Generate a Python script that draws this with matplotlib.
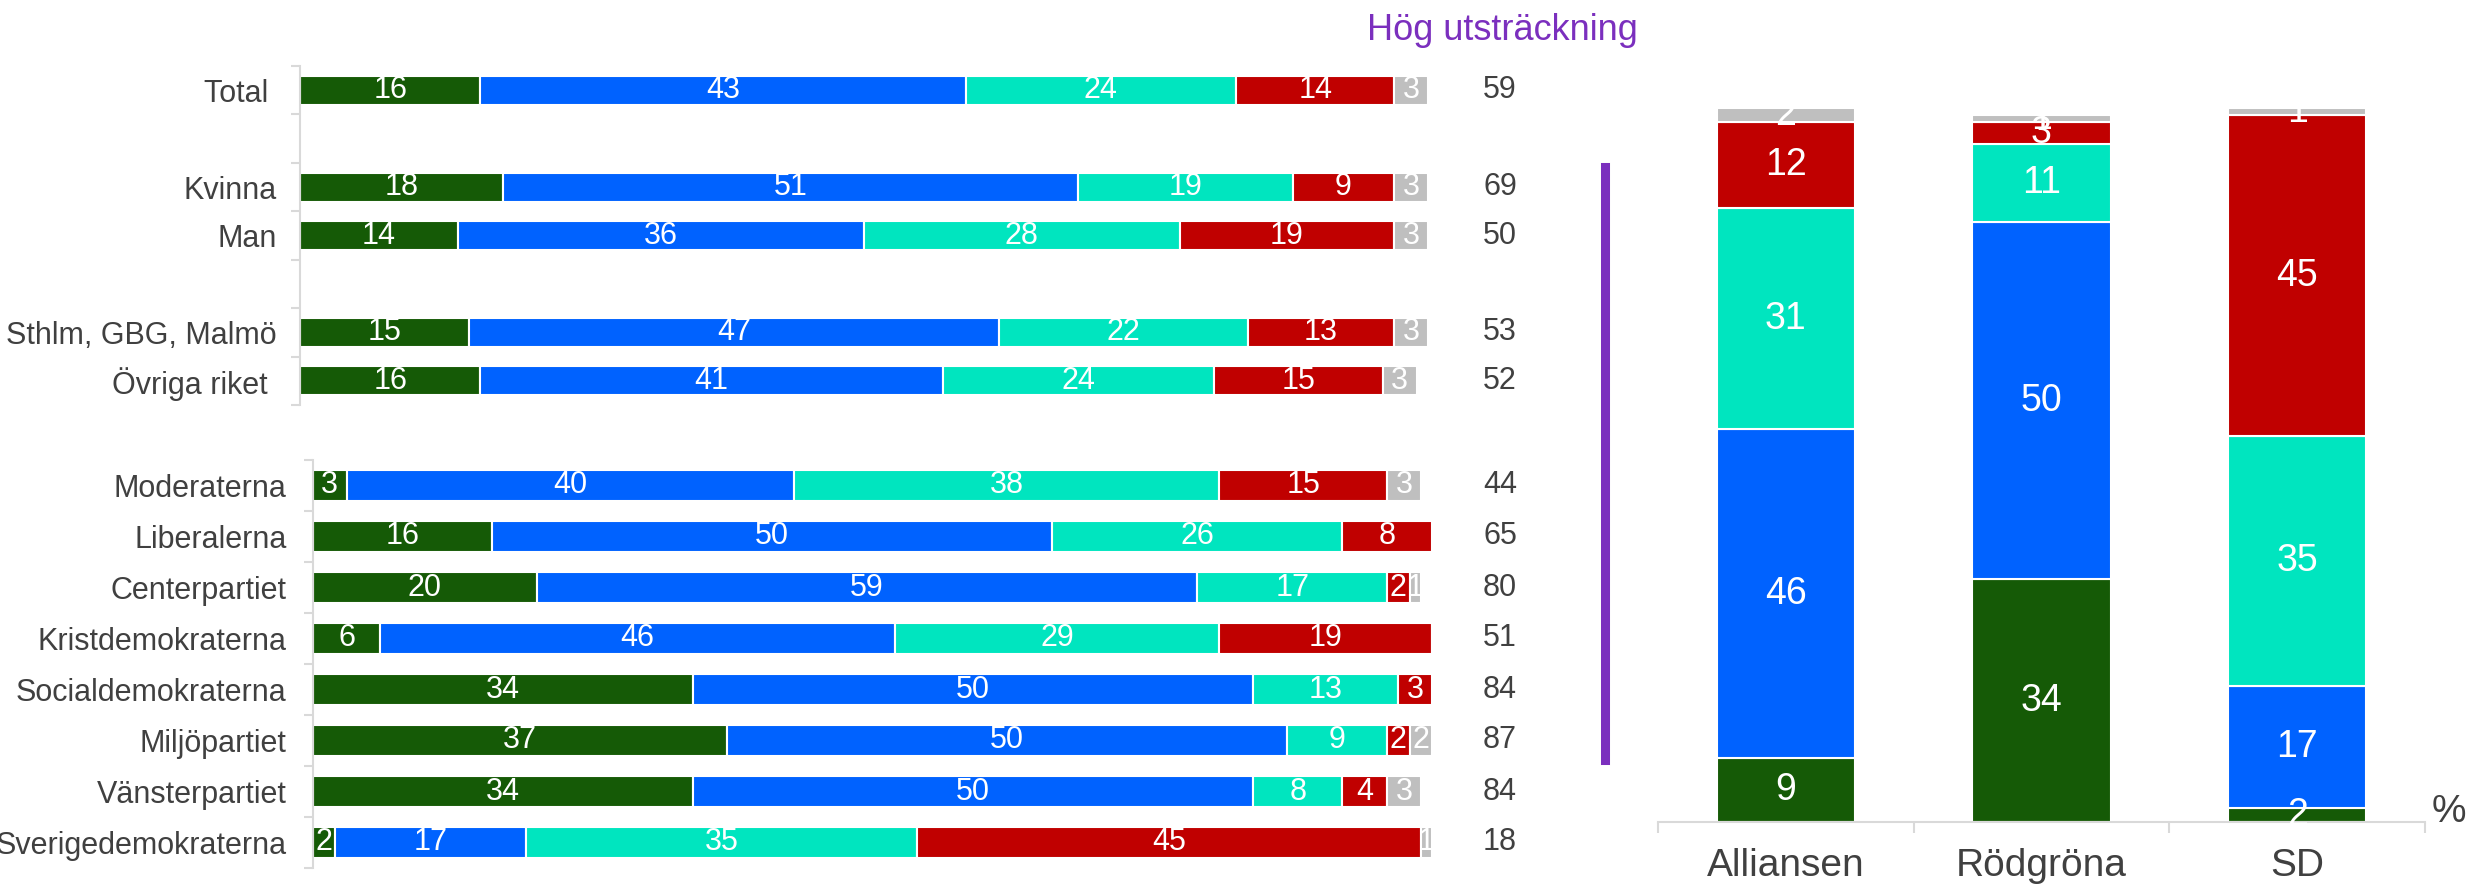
import numpy as np
import matplotlib
matplotlib.use("Agg")
import matplotlib.pyplot as plt
from matplotlib.lines import Line2D
from matplotlib.transforms import blended_transform_factory

plt.rcParams['font.family'] = ['Liberation Sans', 'DejaVu Sans']

# farger for de fem svarsalternativen
colors = ['#155A06', '#0062FF', '#00E5BF', '#C00000', '#BFBFBF']
text_grey = '#404040'
axis_grey = '#D9D9D9'
purple = '#7B2FBE'

# ovre panelen: total, kon, region
top_labels = ['Total ', 'Kvinna', 'Man', 'Sthlm, GBG, Malmö', 'Övriga riket ']
top_slots = [0, 2, 3, 5, 6]
top_values = [
    [16, 43, 24, 14, 3],
    [18, 51, 19, 9, 3],
    [14, 36, 28, 19, 3],
    [15, 47, 22, 13, 3],
    [16, 41, 24, 15, 3],
]
top_net = [59, 69, 50, 53, 52]

# nedre panelen: partisympati
party_labels = ['Moderaterna', 'Liberalerna', 'Centerpartiet', 'Kristdemokraterna',
                'Socialdemokraterna', 'Miljöpartiet', 'Vänsterpartiet', 'Sverigedemokraterna']
party_values = [
    [3, 40, 38, 15, 3],
    [16, 50, 26, 8, 0],
    [20, 59, 17, 2, 1],
    [6, 46, 29, 19, 0.2],
    [34, 50, 13, 3, 0],
    [37, 50, 9, 2, 2],
    [34, 50, 8, 4, 3],
    [2, 17, 35, 45, 1],
]
party_net = [44, 65, 80, 51, 84, 87, 84, 18]

# hoger diagram: block
block_labels = ['Alliansen', 'Rödgröna', 'SD']
block_values = [
    [9, 46, 31, 12, 2],
    [34, 50, 11, 3, 1],
    [2, 17, 35, 45, 1],
]

W, H = 2471, 884
fig = plt.figure(figsize=(W / 100, H / 100), dpi=100)


def px_axes(x0, y0, x1, y1):
    return fig.add_axes([x0 / W, 1 - y1 / H, (x1 - x0) / W, (y1 - y0) / H])


def draw_rows(ax, labels, slots, values, nets, nslots, pad):
    for slot, row in zip(slots, values):
        left = 0
        for j, v in enumerate(row):
            if v <= 0:
                continue
            ax.barh(slot, v, left=left, height=0.6, color=colors[j],
                    edgecolor='white', linewidth=1.5)
            if round(v) >= 1:
                ax.text(left + v / 2, slot, str(int(round(v))), ha='center', va='center',
                        color='white', fontsize=22)
            left += v
    trans = blended_transform_factory(fig.transFigure, ax.transData)
    for slot, n in zip(slots, nets):
        ax.text(1500 / W, slot, str(n), transform=trans, ha='center', va='center',
                color=text_grey, fontsize=22)
    ax.set_xlim(0, 100)
    ax.set_ylim(nslots - 0.5, -0.5)
    ax.set_yticks(slots)
    ax.set_yticklabels(labels, fontsize=22, color=text_grey)
    ax.set_yticks(np.arange(-0.5, nslots, 1), minor=True)
    ax.tick_params(axis='y', which='major', length=0, pad=pad)
    ax.tick_params(axis='y', which='minor', length=6.5, width=1.5, color=axis_grey)
    ax.set_xticks([])
    for s in ['top', 'right', 'bottom']:
        ax.spines[s].set_visible(False)
    ax.spines['left'].set_color(axis_grey)
    ax.spines['left'].set_linewidth(1.5)


ax1 = px_axes(300, 66, 1428, 405)
draw_rows(ax1, top_labels, top_slots, top_values, top_net, 7, 17)

ax2 = px_axes(313, 460, 1432, 868)
draw_rows(ax2, party_labels, list(range(8)), party_values, party_net, 8, 19)

# stapeldiagram till hoger
ax3 = px_axes(1658, 108, 2425, 822)
x = np.arange(len(block_labels))
bottom = np.zeros(len(block_labels))
for j in range(5):
    vals = np.array([row[j] for row in block_values], dtype=float)
    ax3.bar(x, vals, bottom=bottom, width=0.54, color=colors[j],
            edgecolor='white', linewidth=1.5)
    for xi, v, b in zip(x, vals, bottom):
        ax3.text(xi, b + v / 2, str(int(v)), ha='center', va='center',
                 color='white', fontsize=27)
    bottom += vals
ax3.set_xlim(-0.5, 2.5)
ax3.set_ylim(0, 100)
ax3.set_yticks([])
ax3.set_xticks(x)
ax3.set_xticklabels(block_labels, fontsize=28, color=text_grey)
ax3.set_xticks(np.arange(-0.5, 3, 1), minor=True)
ax3.tick_params(axis='x', which='major', length=0, pad=19)
ax3.tick_params(axis='x', which='minor', length=8, width=1.5, color=axis_grey)
for s in ['top', 'right', 'left']:
    ax3.spines[s].set_visible(False)
ax3.spines['bottom'].set_color(axis_grey)
ax3.spines['bottom'].set_linewidth(1.5)

fig.text(2432 / W, 1 - 822 / H, '%', ha='left', va='baseline', fontsize=28, color=text_grey)
fig.text(1502 / W, 1 - 40 / H, 'Hög utsträckning', ha='center', va='baseline',
         fontsize=26, color=purple)
fig.add_artist(Line2D([1605 / W, 1605 / W], [1 - 167 / H, 1 - 760 / H],
                      transform=fig.transFigure, color=purple, linewidth=6.5))

fig.savefig('out.png', dpi=100)
